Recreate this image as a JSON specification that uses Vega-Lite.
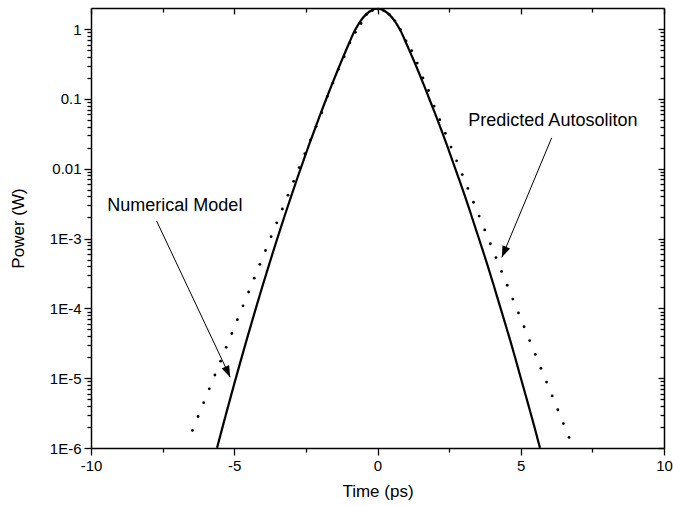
{
  "$schema": "https://vega.github.io/schema/vega-lite/v6.json",
  "autosize": {"type": "none"},
  "width": 573,
  "height": 440,
  "padding": {"left": 91, "top": 8, "right": 9, "bottom": 58},
  "background": "white",
  "view": {"stroke": null},
  "config": {
    "axis": {
      "grid": false,
      "domainColor": "black",
      "tickColor": "black",
      "labelColor": "black",
      "titleColor": "black",
      "labelFont": "Liberation Sans",
      "titleFont": "Liberation Sans",
      "labelFontWeight": "normal",
      "titleFontWeight": "normal",
      "domainWidth": 1.5,
      "tickWidth": 1.3
    }
  },
  "datasets": {
    "model": [
      {"t": -5.6, "P": 1.005e-6}, {"t": -5.4, "P": 2.056e-6}, {"t": -5.2, "P": 4.150e-6},
      {"t": -5.0, "P": 8.279e-6}, {"t": -4.8, "P": 1.631e-5}, {"t": -4.6, "P": 3.177e-5},
      {"t": -4.4, "P": 6.102e-5}, {"t": -4.2, "P": 1.1585e-4}, {"t": -4.0, "P": 2.173e-4},
      {"t": -3.8, "P": 4.024e-4}, {"t": -3.6, "P": 7.365e-4}, {"t": -3.4, "P": 1.331e-3},
      {"t": -3.2, "P": 2.375e-3}, {"t": -3.0, "P": 4.188e-3}, {"t": -2.8, "P": 7.292e-3},
      {"t": -2.6, "P": 0.01254}, {"t": -2.4, "P": 0.02131}, {"t": -2.2, "P": 0.03576},
      {"t": -2.0, "P": 0.0593}, {"t": -1.8, "P": 0.09707}, {"t": -1.6, "P": 0.157},
      {"t": -1.4, "P": 0.2508}, {"t": -1.2, "P": 0.3956}, {"t": -1.0, "P": 0.6166},
      {"t": -0.8, "P": 0.9333}, {"t": -0.6, "P": 1.288}, {"t": -0.4, "P": 1.622},
      {"t": -0.2, "P": 1.862}, {"t": 0.0, "P": 1.95},
      {"t": 0.2, "P": 1.862}, {"t": 0.405, "P": 1.622}, {"t": 0.61, "P": 1.288},
      {"t": 0.81, "P": 0.9333}, {"t": 1.01, "P": 0.6166}, {"t": 1.215, "P": 0.3956},
      {"t": 1.42, "P": 0.2508}, {"t": 1.62, "P": 0.157}, {"t": 1.82, "P": 0.09707},
      {"t": 2.025, "P": 0.0593}, {"t": 2.23, "P": 0.03576}, {"t": 2.43, "P": 0.02131},
      {"t": 2.63, "P": 0.01254}, {"t": 2.835, "P": 7.292e-3}, {"t": 3.04, "P": 4.188e-3},
      {"t": 3.24, "P": 2.375e-3}, {"t": 3.44, "P": 1.331e-3}, {"t": 3.645, "P": 7.365e-4},
      {"t": 3.85, "P": 4.024e-4}, {"t": 4.05, "P": 2.173e-4}, {"t": 4.25, "P": 1.1585e-4},
      {"t": 4.455, "P": 6.102e-5}, {"t": 4.66, "P": 3.177e-5}, {"t": 4.86, "P": 1.631e-5},
      {"t": 5.06, "P": 8.279e-6}, {"t": 5.265, "P": 4.150e-6}, {"t": 5.47, "P": 2.056e-6},
      {"t": 5.67, "P": 1.005e-6}
    ],
    "soliton": [
      {"t": -6.460, "P": 1.788e-6}, {"t": -6.263, "P": 2.822e-6}, {"t": -6.067, "P": 4.453e-6},
      {"t": -5.871, "P": 7.027e-6}, {"t": -5.675, "P": 1.109e-5}, {"t": -5.479, "P": 1.751e-5},
      {"t": -5.282, "P": 2.763e-5}, {"t": -5.086, "P": 4.360e-5}, {"t": -4.890, "P": 6.880e-5},
      {"t": -4.694, "P": 1.086e-4}, {"t": -4.498, "P": 1.714e-4}, {"t": -4.301, "P": 2.704e-4},
      {"t": -4.105, "P": 4.268e-4}, {"t": -3.909, "P": 6.737e-4}, {"t": -3.713, "P": 1.0627e-3},
      {"t": -3.517, "P": 1.677e-3}, {"t": -3.320, "P": 2.646e-3}, {"t": -3.124, "P": 4.174e-3},
      {"t": -2.928, "P": 6.582e-3}, {"t": -2.732, "P": 0.01038}, {"t": -2.536, "P": 0.01635},
      {"t": -2.339, "P": 0.02572}, {"t": -2.143, "P": 0.04044}, {"t": -1.947, "P": 0.06335},
      {"t": -1.751, "P": 0.1084}, {"t": -1.555, "P": 0.1683}, {"t": -1.358, "P": 0.2649},
      {"t": -1.162, "P": 0.4018}, {"t": -0.966, "P": 0.6383}, {"t": -0.770, "P": 0.8954},
      {"t": -0.574, "P": 1.199}, {"t": -0.377, "P": 1.62}, {"t": -0.181, "P": 1.84},
      {"t": 0.015, "P": 1.928}, {"t": 0.211, "P": 1.841}, {"t": 0.407, "P": 1.622},
      {"t": 0.604, "P": 1.309}, {"t": 0.800, "P": 0.989}, {"t": 0.996, "P": 0.676},
      {"t": 1.192, "P": 0.4887}, {"t": 1.388, "P": 0.325}, {"t": 1.585, "P": 0.1995},
      {"t": 1.781, "P": 0.1318}, {"t": 1.977, "P": 0.07884}, {"t": 2.173, "P": 0.05039},
      {"t": 2.369, "P": 0.03210}, {"t": 2.566, "P": 0.02041}, {"t": 2.762, "P": 0.01297},
      {"t": 2.958, "P": 8.225e-3}, {"t": 3.154, "P": 5.216e-3}, {"t": 3.350, "P": 3.307e-3},
      {"t": 3.547, "P": 2.097e-3}, {"t": 3.743, "P": 1.329e-3}, {"t": 3.939, "P": 8.419e-4},
      {"t": 4.135, "P": 5.335e-4}, {"t": 4.331, "P": 3.380e-4}, {"t": 4.528, "P": 2.142e-4},
      {"t": 4.724, "P": 1.357e-4}, {"t": 4.920, "P": 8.598e-5}, {"t": 5.116, "P": 5.449e-5},
      {"t": 5.312, "P": 3.453e-5}, {"t": 5.509, "P": 2.188e-5}, {"t": 5.705, "P": 1.386e-5},
      {"t": 5.901, "P": 8.782e-6}, {"t": 6.097, "P": 5.566e-6}, {"t": 6.293, "P": 3.527e-6},
      {"t": 6.490, "P": 2.235e-6}, {"t": 6.686, "P": 1.416e-6}
    ],
    "labels": [
      {"t": -9.43, "P": 0.00289, "label": "Numerical Model"},
      {"t": 3.17, "P": 0.0479, "label": "Predicted Autosoliton"}
    ],
    "arrows": [
      {"id": "model", "t": -7.71, "P": 0.001782, "t2": -5.14, "P2": 1.033e-5},
      {"id": "soliton", "t": 6.08, "P": 0.02773, "t2": 4.34, "P2": 5.37e-4}
    ]
  },
  "resolve": {"axis": {"x": "independent", "y": "independent"}},
  "layer": [
    {
      "data": {"name": "model"},
      "mark": {"type": "line", "color": "black", "strokeWidth": 2.2, "interpolate": "monotone", "clip": true},
      "encoding": {
        "x": {"field": "t", "type": "quantitative",
          "scale": {"domain": [-10, 10], "nice": false, "zero": false},
          "axis": {"orient": "bottom", "values": [-10, -5, 0, 5, 10], "tickSize": 7, "labelFontSize": 15, "labelPadding": 3, "labelFlush": false,
            "labelExpr": "'' + datum.value",
            "title": "Time (ps)", "titleFontSize": 17, "titlePadding": 10}},
        "y": {"field": "P", "type": "quantitative",
          "scale": {"type": "log", "domain": [1e-6, 2], "nice": false},
          "axis": {"orient": "left", "values": [1e-6, 1e-5, 1e-4, 1e-3, 0.01, 0.1, 1], "tickSize": 7, "labelFontSize": 15, "labelPadding": 3, "labelFlush": false,
            "labelExpr": "datum.value == 1 ? '1' : datum.value == 0.1 ? '0.1' : datum.value == 0.01 ? '0.01' : '1E' + round(log(datum.value)/LN10)",
            "title": "Power (W)", "titleFontSize": 17, "titlePadding": 22}}
      }
    },
    {
      "data": {"name": "soliton"},
      "mark": {"type": "point", "shape": "circle", "filled": true, "color": "black", "size": 8, "opacity": 1},
      "encoding": {
        "x": {"field": "t", "type": "quantitative",
          "scale": {"domain": [-10, 10], "nice": false, "zero": false},
          "axis": {"orient": "bottom", "values": [-7.5, -2.5, 2.5, 7.5], "tickSize": 4, "labels": false, "domain": false, "title": null}},
        "y": {"field": "P", "type": "quantitative",
          "scale": {"type": "log", "domain": [1e-6, 2], "nice": false},
          "axis": {"orient": "left", "tickSize": 4, "labels": false, "domain": false, "title": null,
            "values": [2e-6, 3e-6, 4e-6, 5e-6, 6e-6, 7e-6, 8e-6, 9e-6, 2e-5, 3e-5, 4e-5, 5e-5, 6e-5, 7e-5, 8e-5, 9e-5, 2e-4, 3e-4, 4e-4, 5e-4, 6e-4, 7e-4, 8e-4, 9e-4, 0.002, 0.003, 0.004, 0.005, 0.006, 0.007, 0.008, 0.009, 0.02, 0.03, 0.04, 0.05, 0.06, 0.07, 0.08, 0.09, 0.2, 0.3, 0.4, 0.5, 0.6, 0.7, 0.8, 0.9]}}
      }
    },
    {
      "data": {"name": "arrows"},
      "mark": {"type": "rule", "color": "black", "strokeWidth": 1},
      "encoding": {
        "x": {"field": "t", "type": "quantitative",
          "scale": {"domain": [-10, 10], "nice": false, "zero": false},
          "axis": {"orient": "top", "values": [-10, -5, 0, 5, 10], "tickSize": -6, "labels": false, "title": null}},
        "y": {"field": "P", "type": "quantitative",
          "scale": {"type": "log", "domain": [1e-6, 2], "nice": false},
          "axis": {"orient": "right", "values": [1e-6, 1e-5, 1e-4, 1e-3, 0.01, 0.1, 1], "tickSize": -6, "labels": false, "title": null}},
        "x2": {"field": "t2"},
        "y2": {"field": "P2"}
      }
    },
    {
      "data": {"name": "labels"},
      "mark": {"type": "text", "font": "Liberation Sans", "fontSize": 18, "align": "left", "baseline": "middle", "color": "black"},
      "encoding": {
        "x": {"field": "t", "type": "quantitative",
          "scale": {"domain": [-10, 10], "nice": false, "zero": false},
          "axis": {"orient": "top", "values": [-7.5, -2.5, 2.5, 7.5], "tickSize": -4, "labels": false, "domain": false, "title": null}},
        "y": {"field": "P", "type": "quantitative",
          "scale": {"type": "log", "domain": [1e-6, 2], "nice": false},
          "axis": {"orient": "right", "tickSize": -4, "labels": false, "domain": false, "title": null,
            "values": [2e-6, 3e-6, 4e-6, 5e-6, 6e-6, 7e-6, 8e-6, 9e-6, 2e-5, 3e-5, 4e-5, 5e-5, 6e-5, 7e-5, 8e-5, 9e-5, 2e-4, 3e-4, 4e-4, 5e-4, 6e-4, 7e-4, 8e-4, 9e-4, 0.002, 0.003, 0.004, 0.005, 0.006, 0.007, 0.008, 0.009, 0.02, 0.03, 0.04, 0.05, 0.06, 0.07, 0.08, 0.09, 0.2, 0.3, 0.4, 0.5, 0.6, 0.7, 0.8, 0.9]}},
        "text": {"field": "label"}
      }
    },
    {
      "data": {"name": "arrows"},
      "transform": [{"filter": "datum.id == 'model'"}],
      "mark": {"type": "point", "shape": "M0,0L-0.36,1L0.36,1Z", "filled": true, "color": "black", "opacity": 1, "size": 520, "angle": 154.8},
      "encoding": {
        "x": {"field": "t2", "type": "quantitative", "scale": {"domain": [-10, 10], "nice": false, "zero": false}, "axis": null},
        "y": {"field": "P2", "type": "quantitative", "scale": {"type": "log", "domain": [1e-6, 2], "nice": false}, "axis": null}
      }
    },
    {
      "data": {"name": "arrows"},
      "transform": [{"filter": "datum.id == 'soliton'"}],
      "mark": {"type": "point", "shape": "M0,0L-0.36,1L0.36,1Z", "filled": true, "color": "black", "opacity": 1, "size": 520, "angle": 202.7},
      "encoding": {
        "x": {"field": "t2", "type": "quantitative", "scale": {"domain": [-10, 10], "nice": false, "zero": false}, "axis": null},
        "y": {"field": "P2", "type": "quantitative", "scale": {"type": "log", "domain": [1e-6, 2], "nice": false}, "axis": null}
      }
    }
  ]
}
